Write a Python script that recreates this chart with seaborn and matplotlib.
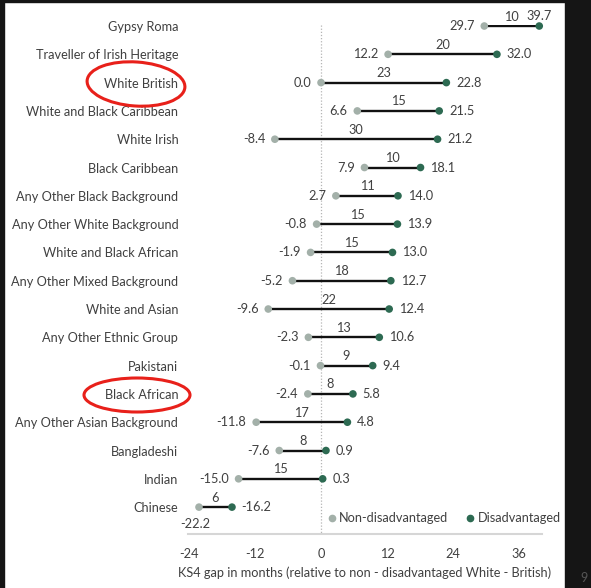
import matplotlib
matplotlib.use("Agg")
import matplotlib.pyplot as plt
from matplotlib.patches import Rectangle, Ellipse
from matplotlib.lines import Line2D
import seaborn as sns
import pandas as pd

groups = ["Gypsy Roma", "Traveller of Irish Heritage", "White British",
          "White and Black Caribbean", "White Irish", "Black Caribbean",
          "Any Other Black Background", "Any Other White Background",
          "White and Black African", "Any Other Mixed Background",
          "White and Asian", "Any Other Ethnic Group", "Pakistani",
          "Black African", "Any Other Asian Background", "Bangladeshi",
          "Indian", "Chinese"]
non_disadv = [29.7, 12.2, 0.0, 6.6, -8.4, 7.9, 2.7, -0.8, -1.9, -5.2,
              -9.6, -2.3, -0.1, -2.4, -11.8, -7.6, -15.0, -22.2]
disadv = [39.7, 32.0, 22.8, 21.5, 21.2, 18.1, 14.0, 13.9, 13.0, 12.7,
          12.4, 10.6, 9.4, 5.8, 4.8, 0.9, 0.3, -16.2]
gaps = [10, 20, 23, 15, 30, 10, 11, 15, 15, 18, 22, 13, 9, 8, 17, 8, 15, 6]
xticks = [-24, -12, 0, 12, 24, 36]
xlabel = "KS4 gap in months (relative to non - disadvantaged White - British)"

GREY = "#a3b0a9"
GREEN = "#2d6a52"
TXT = "#404040"

sns.set_theme(style="white")
plt.rcParams["font.family"] = ["Lato", "DejaVu Sans"]

W, H = 591, 588
fig = plt.figure(figsize=(W / 100, H / 100), dpi=100)
fig.patch.set_facecolor("white")

ax_l, ax_r, ax_t, ax_b = 188, 542, 24.6, 534
ax = fig.add_axes([ax_l / W, 1 - ax_b / H, (ax_r - ax_l) / W, (ax_b - ax_t) / H])
ax.set_facecolor("none")

n = len(groups)
ypos = list(range(n))
df = pd.DataFrame({
    "group": groups * 2,
    "y": ypos * 2,
    "value": non_disadv + disadv,
    "Status": ["Non-disadvantaged"] * n + ["Disadvantaged"] * n,
})

ax.plot([0, 0], [-0.05, 18], ls=(0, (1, 1.5)), color="#b5b5b5", lw=0.9, zorder=1)
ax.hlines(ypos, non_disadv, disadv, color="#111111", lw=1.7, zorder=2)
sns.scatterplot(data=df, x="value", y="y", hue="Status",
                palette={"Non-disadvantaged": GREY, "Disadvantaged": GREEN},
                s=30, edgecolor="none", ax=ax, zorder=3, legend=False, clip_on=False)

ax.set_xlim(-24.2, 40.2)
ax.set_ylim(17.95, -0.05)

fs = 9.2
for i in range(n):
    a, b = non_disadv[i], disadv[i]
    ax.annotate(str(gaps[i]), xy=((a + b) / 2, i), xytext=(0, 2.5), textcoords="offset points",
                ha="center", va="bottom", fontsize=fs, color=TXT)
    if i == n - 1:
        ax.annotate(f"{a:.1f}", xy=(a, i), xytext=(-3, -8), textcoords="offset points",
                    ha="center", va="top", fontsize=fs, color=TXT)
    else:
        ax.annotate(f"{a:.1f}", xy=(a, i), xytext=(-7, 0), textcoords="offset points",
                    ha="right", va="center", fontsize=fs, color=TXT)
    if i == 0:
        ax.annotate(f"{b:.1f}", xy=(b, i), xytext=(0, 3), textcoords="offset points",
                    ha="center", va="bottom", fontsize=fs, color=TXT)
    else:
        ax.annotate(f"{b:.1f}", xy=(b, i), xytext=(7, 0), textcoords="offset points",
                    ha="left", va="center", fontsize=fs, color=TXT)

ax.set_yticks(ypos)
ax.set_yticklabels(groups, fontsize=fs, color=TXT)
ax.set_xticks(xticks)
ax.set_xticklabels([str(t) for t in xticks], fontsize=fs, color=TXT)
ax.tick_params(axis="y", length=0, pad=7)
ax.tick_params(axis="x", length=0, pad=10)
ax.set_xlabel(xlabel, fontsize=fs, color=TXT, labelpad=5)
ax.set_ylabel("")
for s in ["top", "right", "left"]:
    ax.spines[s].set_visible(False)
ax.spines["bottom"].set_color("#d6d6d6")
ax.spines["bottom"].set_linewidth(1.5)

handles = [Line2D([], [], marker="o", ls="", color=GREY, markersize=4.5),
           Line2D([], [], marker="o", ls="", color=GREEN, markersize=4.5)]
leg = fig.legend(handles, ["Non-disadvantaged", "Disadvantaged"], ncol=2, frameon=False,
                 loc="center right", bbox_to_anchor=(561 / W, 1 - 518 / H),
                 fontsize=fs, handletextpad=0.1, columnspacing=1.2, handlelength=1.0,
                 borderaxespad=0, borderpad=0)
for t in leg.get_texts():
    t.set_color(TXT)

# red hand-drawn circles
fig.patches.append(Ellipse((136 / W, 1 - 84 / H), 98 / W, 44 / H, angle=-4,
                           transform=fig.transFigure, fill=False, ec="#e8201a", lw=2.2))
fig.patches.append(Ellipse((137 / W, 1 - 395 / H), 106 / W, 34 / H, angle=0,
                           transform=fig.transFigure, fill=False, ec="#e8201a", lw=2.2))

# screenshot frame
dark = "#151515"
fig.patches.append(Rectangle((0, 0), 4 / W, 1, transform=fig.transFigure, color=dark, zorder=10))
fig.patches.append(Rectangle((0, 1 - 2 / H), 1, 2 / H, transform=fig.transFigure, color=dark, zorder=10))
fig.patches.append(Rectangle((565 / W, 0), 26 / W, 1, transform=fig.transFigure, color=dark, zorder=10))
fig.text(580 / W, 1 - 578 / H, "9", fontsize=9, color="#555555", va="center", ha="left", zorder=11)

fig.savefig("out.png", dpi=100)
